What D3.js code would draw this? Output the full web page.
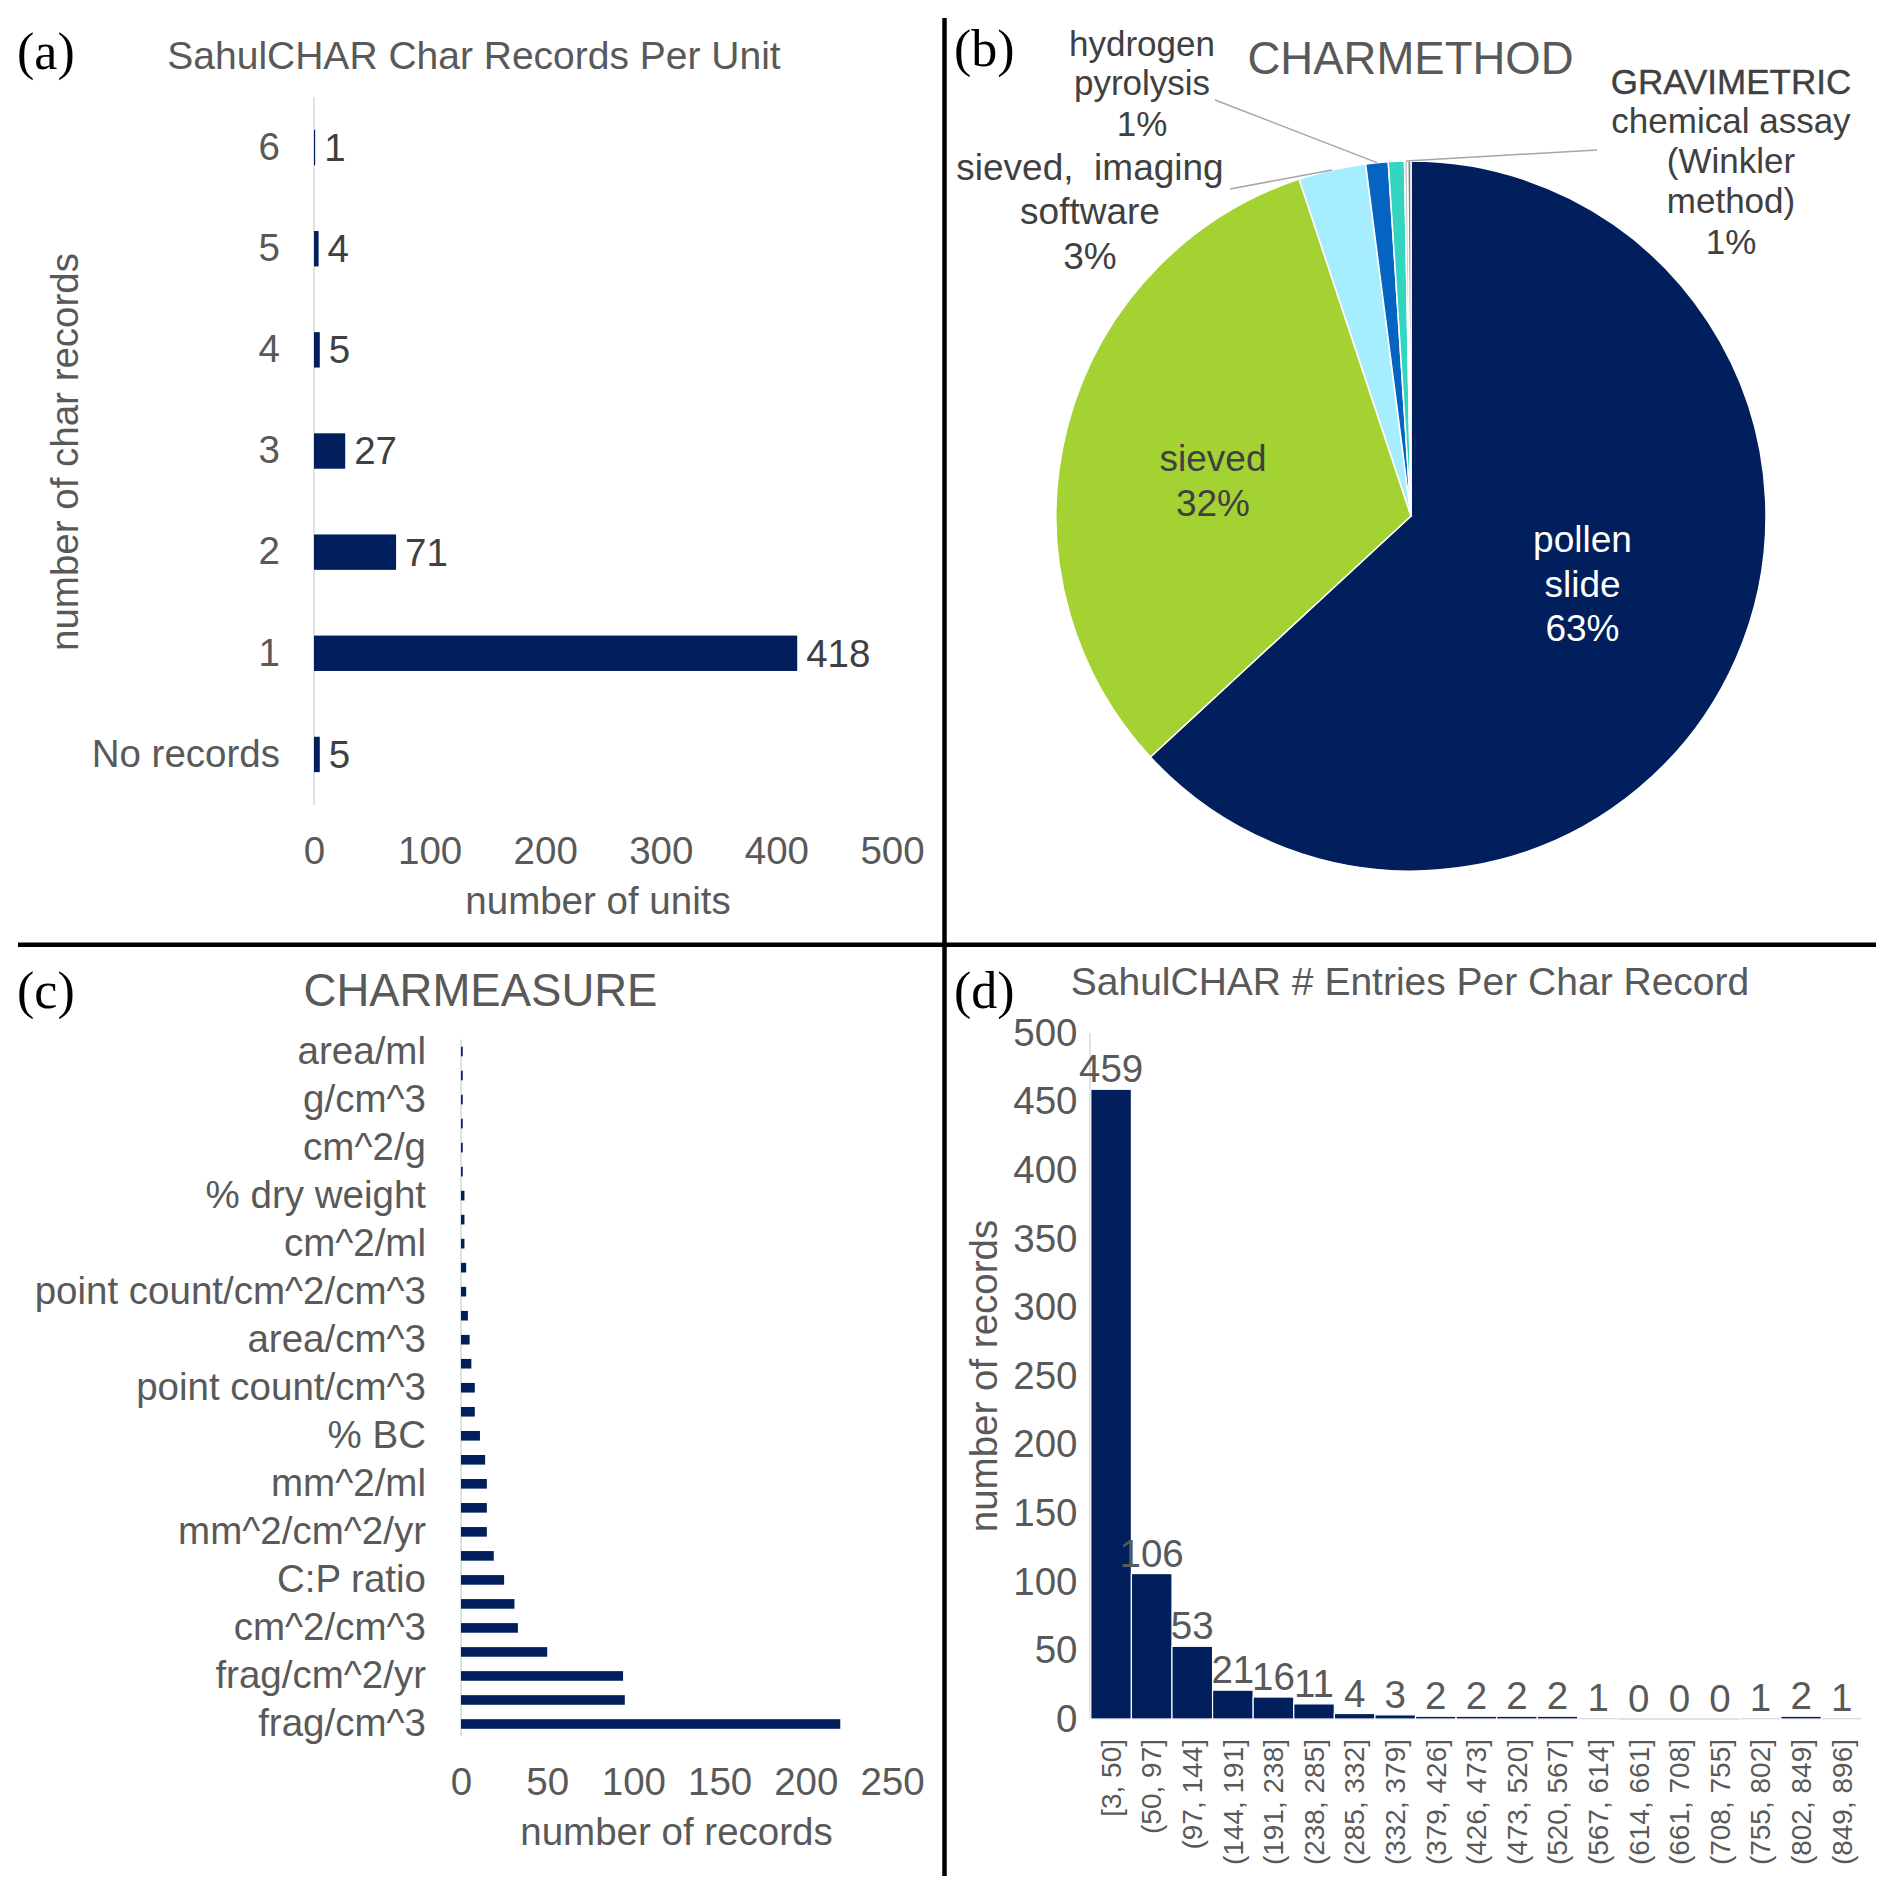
<!DOCTYPE html>
<html><head><meta charset="utf-8">
<script src="https://cdn.jsdelivr.net/npm/d3@7"></script>
<style>
body{margin:0;background:#fff}
svg{display:block}
text{font-family:"Liberation Sans",Arial,sans-serif}
</style>
</head><body>
<svg id="chart" width="1892" height="1892"></svg>
<script>
// ---------- Panel (a): char records per unit ----------
const unitCategories = ["6","5","4","3","2","1","No records"];
const unitCounts = [1,4,5,27,71,418,5];
const unitTicks = [0,100,200,300,400,500];

// ---------- Panel (b): CHARMETHOD pie ----------
const methodCategories = ["pollen slide","sieved","sieved,  imaging software","hydrogen pyrolysis","chemical assay (Winkler method)","GRAVIMETRIC","other"];
const methodCounts = [433,218,21,7,5,1,1];
const methodColors = ["#001F5C","#A4D233","#A6EEFF","#0563C1","#33D4C0","#C9C9C9","#7F7F7F"];

// ---------- Panel (c): CHARMEASURE ----------
const measureLabels = ["frag/cm^3","","frag/cm^2/yr","","cm^2/cm^3","","C:P ratio","","mm^2/cm^2/yr","","mm^2/ml","","% BC","","point count/cm^3","","area/cm^3","","point count/cm^2/cm^3","","cm^2/ml","","% dry weight","","cm^2/g","","g/cm^3","","area/ml"];
const measureCounts = [220,95,94,50,33,31,25,19,15,15,15,14,11,8,8,6,5,4,3,3,2,2,2,1,1,1,1,1,1];
const measureTicks = [0,50,100,150,200,250];

// ---------- Panel (d): entries per char record ----------
const binLabels = ["[3, 50]","(50, 97]","(97, 144]","(144, 191]","(191, 238]","(238, 285]","(285, 332]","(332, 379]","(379, 426]","(426, 473]","(473, 520]","(520, 567]","(567, 614]","(614, 661]","(661, 708]","(708, 755]","(755, 802]","(802, 849]","(849, 896]"];
const binCounts = [459,106,53,21,16,11,4,3,2,2,2,2,1,0,0,0,1,2,1];
const binTicks = [0,50,100,150,200,250,300,350,400,450,500];

const FONT = '"Liberation Sans", Arial, sans-serif';
const SERIF = '"Liberation Serif", "Times New Roman", serif';
const GRAY = "#595959", DARK = "#404040", NAVY = "#001F5C", AXIS = "#D9D9D9";
const FS = 38.5;

const svg = d3.select("#chart");
svg.append("rect").attr("width",1892).attr("height",1892).attr("fill","#fff");

function styleAxis(g, size){
  g.select(".domain").remove();
  g.selectAll(".tick line").remove();
  g.attr("font-family", FONT).attr("font-size", size || FS).attr("color", GRAY);
}
function multiline(parent, x, baselines, lines, size, color, extra){
  const t = parent.append("text").attr("text-anchor","middle").attr("font-size",size).attr("fill",color).style("white-space","pre");
  lines.forEach((l,i)=>{
    const ts = t.append("tspan").attr("x",x).attr("y",baselines[i]).text(l);
    if (extra && extra[i]) extra[i](ts);
  });
  return t;
}
function title(x, y, txt, size){
  svg.append("text").attr("x",x).attr("y",y).attr("text-anchor","middle").attr("font-size",size).attr("fill",GRAY).text(txt);
}
function panelLetter(x, y, txt){
  svg.append("text").attr("x",x).attr("y",y).style("font-family",SERIF).attr("font-size",52).attr("fill","#000").text(txt);
}

// ================= Panel (a) =================
{
  const x = d3.scaleLinear().domain([0,500]).range([314,892]);
  const y = d3.scaleBand().domain(unitCategories).range([97,805]).paddingInner(0.65).paddingOuter(0.325);
  const g = svg.append("g");
  g.append("line").attr("x1",x(0)).attr("x2",x(0)).attr("y1",97).attr("y2",805).attr("stroke",AXIS).attr("stroke-width",1.5);
  g.selectAll("rect.bar").data(unitCounts).join("rect").attr("class","bar")
    .attr("x",x(0)).attr("y",(d,i)=>y(unitCategories[i]))
    .attr("width",d=>x(d)-x(0)).attr("height",y.bandwidth()).attr("fill",NAVY);
  g.selectAll("text.val").data(unitCounts).join("text").attr("class","val")
    .attr("x",d=>x(d)+9).attr("y",(d,i)=>y(unitCategories[i])+y.bandwidth()/2).attr("dy","0.35em")
    .attr("font-size",FS).attr("fill",DARK).text(d=>d);
  g.append("g").attr("transform","translate(0,805)")
    .call(d3.axisBottom(x).tickValues(unitTicks).tickSize(0).tickPadding(32)).call(styleAxis);
  g.append("g").attr("transform",`translate(${x(0)},0)`)
    .call(d3.axisLeft(y).tickSize(0).tickPadding(34)).call(styleAxis);
  g.append("text").attr("x",598).attr("y",914).attr("text-anchor","middle").attr("font-size",FS).attr("fill",GRAY).text("number of units");
  g.append("text").attr("transform","translate(78,452) rotate(-90)").attr("text-anchor","middle").attr("font-size",FS).attr("fill",GRAY).text("number of char records");
  title(474, 69, "SahulCHAR Char Records Per Unit", 39);
  panelLetter(17, 69, "(a)");
}

// ================= Panel (b) =================
{
  const cx = 1411, cy = 516, R = 355;
  const total = d3.sum(methodCounts);
  const pct = v => Math.round(v/total*100) + "%";
  const arcs = d3.pie().sort(null).value(d=>d)(methodCounts);
  const arc = d3.arc().innerRadius(0).outerRadius(R);
  const edge = d3.arc().innerRadius(R).outerRadius(R);
  const g = svg.append("g").attr("transform",`translate(${cx},${cy})`);
  g.selectAll("path").data(arcs).join("path").attr("d",arc)
    .attr("fill",(d,i)=>methodColors[i]).attr("stroke","#fff").attr("stroke-width",1.5).attr("stroke-linejoin","round");

  // leader lines (from label anchor to slice edge)
  const leaders = [[3,[1215,100]],[2,[1230,189]],[5,[1597,150]]];
  leaders.forEach(([i,p])=>{
    const c = edge.centroid(arcs[i]);
    svg.append("line").attr("x1",p[0]).attr("y1",p[1]).attr("x2",cx+c[0]).attr("y2",cy+c[1])
      .attr("stroke","#A6A6A6").attr("stroke-width",1.5);
  });

  multiline(svg, 1142, [55.5,95.3,135.7], ["hydrogen","pyrolysis",pct(methodCounts[3])], 35, DARK);
  multiline(svg, 1090, [180,224.4,268.5], ["sieved,  imaging","software",pct(methodCounts[2])], 37, DARK);
  multiline(svg, 1213, [470.6,515.8], ["sieved",pct(methodCounts[1])], 37, DARK);
  multiline(svg, 1582.5, [552,597.3,641.3], ["pollen","slide",pct(methodCounts[0])], 37, "#fff");
  multiline(svg, 1731, [94.3,133.3,173.3,213.3,254], ["GRAVIMETRIC","chemical assay","(Winkler","method)",pct(methodCounts[4])], 35, DARK,
    [ts=>ts.attr("stroke",DARK).attr("stroke-width",0.4)]);

  title(1410.5, 74, "CHARMETHOD", 45.5);
  panelLetter(954, 66, "(b)");
}

// ================= Panel (c) =================
{
  const idx = d3.range(measureCounts.length);
  const x = d3.scaleLinear().domain([0,250]).range([461,892]);
  const y = d3.scaleBand().domain(idx.slice().reverse()).range([1039.5,1736]).paddingInner(0.6).paddingOuter(0.3);
  const g = svg.append("g");
  g.append("line").attr("x1",x(0)).attr("x2",x(0)).attr("y1",1039.5).attr("y2",1736).attr("stroke",AXIS).attr("stroke-width",1.5);
  g.selectAll("rect.bar").data(measureCounts).join("rect").attr("class","bar")
    .attr("x",x(0)).attr("y",(d,i)=>y(i)).attr("width",d=>x(d)-x(0)).attr("height",y.bandwidth()).attr("fill",NAVY);
  g.append("g").attr("transform","translate(0,1736)")
    .call(d3.axisBottom(x).tickValues(measureTicks).tickSize(0).tickPadding(32)).call(styleAxis);
  g.append("g").attr("transform",`translate(${x(0)},0)`)
    .call(d3.axisLeft(y).tickSize(0).tickPadding(35).tickFormat(i=>measureLabels[i])).call(styleAxis);
  g.append("text").attr("x",676.5).attr("y",1845).attr("text-anchor","middle").attr("font-size",FS).attr("fill",GRAY).text("number of records");
  title(480.5, 1006, "CHARMEASURE", 45.5);
  panelLetter(17, 1008, "(c)");
}

// ================= Panel (d) =================
{
  const x = d3.scaleBand().domain(binLabels).range([1090.8,1862]).padding(0);
  const y = d3.scaleLinear().domain([0,500]).range([1719,1033]);
  const g = svg.append("g");
  g.append("line").attr("x1",1090).attr("x2",1090).attr("y1",1033).attr("y2",1719).attr("stroke",AXIS).attr("stroke-width",1.5);
  g.append("line").attr("x1",1090).attr("x2",1862).attr("y1",1719).attr("y2",1719).attr("stroke",AXIS).attr("stroke-width",1.5);
  g.selectAll("rect.bar").data(binCounts).join("rect").attr("class","bar")
    .attr("x",(d,i)=>x(binLabels[i])).attr("y",d=>y(d)).attr("width",x.bandwidth()).attr("height",d=>y(0)-y(d))
    .attr("fill",NAVY).attr("stroke","#fff").attr("stroke-width",1.2);
  g.selectAll("text.val").data(binCounts).join("text").attr("class","val")
    .attr("x",(d,i)=>x(binLabels[i])+x.bandwidth()/2).attr("y",d=>y(d)-7).attr("text-anchor","middle")
    .attr("font-size",FS).attr("fill",GRAY).text(d=>d);
  g.append("g").attr("transform","translate(1090,0)")
    .call(d3.axisLeft(y).tickValues(binTicks).tickSize(0).tickPadding(12.5)).call(styleAxis);
  const xa = g.append("g").attr("transform","translate(0,1719)")
    .call(d3.axisBottom(x).tickSize(0)).call(g2=>styleAxis(g2,28));
  xa.selectAll(".tick text").attr("transform","rotate(-90)").attr("text-anchor","end")
    .attr("x",-20).attr("y",0).attr("dy","0.35em");
  g.append("text").attr("transform","translate(997,1376) rotate(-90)").attr("text-anchor","middle").attr("font-size",FS).attr("fill",GRAY).text("number of records");
  title(1410, 995, "SahulCHAR # Entries Per Char Record", 39);
  panelLetter(954, 1008, "(d)");
}

// ================= Dividers =================
svg.append("line").attr("x1",944.5).attr("x2",944.5).attr("y1",18).attr("y2",1876).attr("stroke","#000").attr("stroke-width",4.5);
svg.append("line").attr("x1",18).attr("x2",1876).attr("y1",944.8).attr("y2",944.8).attr("stroke","#000").attr("stroke-width",4.5);
</script>
</body></html>
